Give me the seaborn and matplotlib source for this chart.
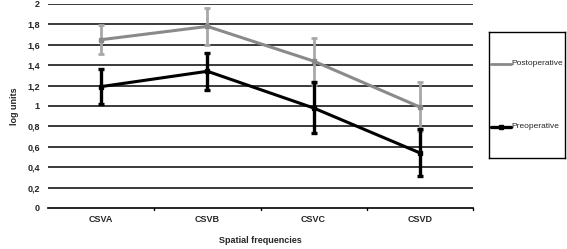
import pandas as pd
import matplotlib
matplotlib.use("Agg")
import matplotlib.pyplot as plt
import seaborn as sns

categories = ["CSVA", "CSVB", "CSVC", "CSVD"]
postop = [1.65, 1.78, 1.44, 0.99]
postop_err = [0.14, 0.18, 0.23, 0.24]
preop = [1.19, 1.34, 0.98, 0.54]
preop_err = [0.17, 0.18, 0.25, 0.23]
yticks = [0, 0.2, 0.4, 0.6, 0.8, 1, 1.2, 1.4, 1.6, 1.8, 2]
ytick_labels = ["0", "0,2", "0,4", "0,6", "0,8", "1", "1,2", "1,4", "1,6", "1,8", "2"]

data = pd.DataFrame({
    "cat": categories * 2,
    "value": postop + preop,
    "group": ["Postoperative"] * 4 + ["Preoperative"] * 4,
})

sns.set_style("white")
plt.rcParams["font.family"] = ["Liberation Sans", "DejaVu Sans"]

fig = plt.figure(figsize=(5.67, 2.49), dpi=100)
ax = fig.add_axes([0.085, 0.165, 0.749, 0.819])

# horizontal grid
for t in yticks[1:]:
    ax.axhline(t, color="#3a3a3a", lw=1.4, zorder=0)

colors = {"Postoperative": "#8a8a8a", "Preoperative": "#000000"}
sns.lineplot(data=data, x="cat", y="value", hue="group", palette=colors,
             linewidth=2.2, ax=ax, legend=False, zorder=3)

xs = list(range(len(categories)))
ax.errorbar(xs, postop, yerr=postop_err, fmt="none", ecolor="#a8a8a8",
            elinewidth=2, capsize=2, capthick=2, zorder=2)
ax.errorbar(xs, preop, yerr=preop_err, fmt="none", ecolor="#000000",
            elinewidth=2.4, capsize=2, capthick=2.4, zorder=4)
ax.plot(xs, preop, "s", color="black", ms=3, zorder=5)
ax.plot(xs, postop, "s", color="#8a8a8a", ms=2.5, zorder=3)

ax.set_xlim(-0.5, 3.5)
ax.set_ylim(0, 2)
ax.set_yticks(yticks)
ax.set_yticklabels(ytick_labels, fontsize=6.5, fontweight="bold")
ax.set_xticks(xs)
ax.set_xticklabels(categories, fontsize=6.5, fontweight="bold")
ax.tick_params(axis="x", length=0, pad=5)
ax.tick_params(axis="y", length=0, pad=6)
for x in [0.5, 1.5, 2.5, 3.5]:
    ax.plot([x, x], [0, -0.02], color="black", lw=1, clip_on=False)

for s in ["top", "right", "left"]:
    ax.spines[s].set_visible(False)
ax.spines["bottom"].set_color("black")
ax.spines["bottom"].set_linewidth(1.2)

ax.set_xlabel("Spatial frequencies", fontsize=6.5, fontweight="bold", labelpad=9)
ax.set_ylabel("log units", fontsize=6.5, fontweight="bold", labelpad=6)

# legend box
lax = fig.add_axes([489 / 567, 1 - 158 / 249, 76 / 567, 126 / 249])
lax.set_xlim(0, 1)
lax.set_ylim(0, 1)
lax.set_xticks([])
lax.set_yticks([])
for s in lax.spines.values():
    s.set_color("black")
    s.set_linewidth(1)
lax.plot([0.03, 0.29], [0.75, 0.75], color="#8a8a8a", lw=2)
lax.plot([0.03, 0.29], [0.25, 0.25], color="black", lw=2.4)
lax.plot([0.16], [0.25], "s", color="black", ms=3)
lax.text(0.29, 0.75, "Postoperative", fontsize=6, va="center", ha="left")
lax.text(0.29, 0.25, "Preoperative", fontsize=6, va="center", ha="left")

fig.savefig("out.png", dpi=100)
